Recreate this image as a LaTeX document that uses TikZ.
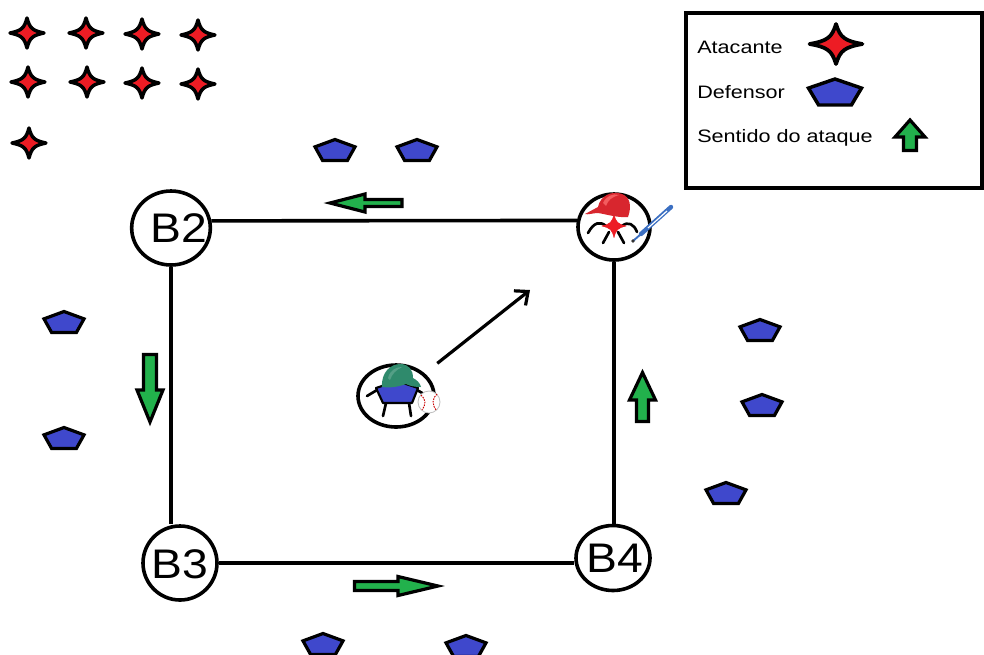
\documentclass[tikz,border=0pt]{standalone}
\usepackage{graphicx}
\usepackage{fontspec}
\setmainfont{Liberation Sans}
\usetikzlibrary{shapes.geometric,arrows.meta,calc}

\definecolor{atkred}{HTML}{ED1C24}
\definecolor{defblue}{HTML}{3F48CC}
\definecolor{dirgreen}{HTML}{22B14C}
\definecolor{capgreen}{HTML}{2F8A6C}
\definecolor{capred}{HTML}{D8262E}
\definecolor{batblue}{HTML}{3B6FC2}

\tikzset{
  px/.style={x=0.75pt,y=-0.75pt},
  fieldline/.style={line width=2.7pt},
  basenode/.style={ellipse, draw, line width=2.7pt, fill=white, inner sep=0pt},
  baselabel/.style={font=\fontsize{31}{31}\selectfont, anchor=base, inner sep=0pt},
  legendtext/.style={font=\fontsize{13.5}{14}\selectfont, anchor=base west, inner sep=0pt},
  dirarrow/.style={fill=dirgreen, draw=black, line width=2.4pt, line join=miter},
  limb/.style={line width=2pt, line cap=round},
  pics/attacker/.style={code={
    \filldraw[fill=atkred, line join=round]
      (1,0) .. controls (0.32,0.16) and (0.16,0.32) .. (0,1)
            .. controls (-0.16,0.32) and (-0.32,0.16) .. (-1,0)
            .. controls (-0.32,-0.16) and (-0.16,-0.32) .. (0,-1)
            .. controls (0.16,-0.32) and (0.32,-0.16) .. cycle;}},
  pics/defender/.style={code={
    \filldraw[fill=defblue, line join=miter]
      (0,-1) -- (1,-0.3) -- (0.62,1) -- (-0.62,1) -- (-1,-0.3) -- cycle;}},
}

\begin{document}
\begin{tikzpicture}[px]
\useasboundingbox (0,0) rectangle (984,654);
\fill[white] (0,0) rectangle (984,654);

% waiting attackers
\foreach \x/\y in {27/33, 86/33, 142/34, 198/35, 28/82, 87/82, 142/83, 198/84, 29/143}
  \pic[xscale=17, yscale=15, line width=2.6pt] at (\x,\y) {attacker};

% defenders around the field
\foreach \x/\y in {335/150, 417/150, 64/322, 64/438, 760/330, 762/405, 726/493, 323/644, 466/646}
  \pic[xscale=20, yscale=10.5, line width=2.4pt] at (\x,\y) {defender};

% bases
\node[basenode, minimum width=59pt, minimum height=55.5pt] (B2) at (171,228) {};
\node[basenode, minimum width=54pt, minimum height=49.5pt] (B1) at (614,227) {};
\node[basenode, minimum width=55.5pt, minimum height=55.5pt] (B3) at (180,563) {};
\node[basenode, minimum width=55.5pt, minimum height=48.75pt] (B4) at (613,558) {};

% base paths
\draw[fieldline] (B2.10) -- (B1.170);
\draw[fieldline] (B2.south) -- (B2.south |- B3.north);
\draw[fieldline] (B3.east) -- (B3.east -| B4.west);
\draw[fieldline] (B1.south) -- (B1.south |- B4.north);

% base labels
\node[baselabel] (B2text) at (179,242) {\scalebox{1.12}[1]{B2}};
\node[baselabel] (B3text) at (180,578) {\scalebox{1.12}[1]{B3}};
\node[baselabel] (B4text) at (615,572) {\scalebox{1.12}[1]{B4}};

% pitcher circle
\node[basenode, minimum width=57pt, minimum height=46.5pt] (P) at (396,396) {};

% throw direction
\coordinate (aim) at (530,290);
\draw[line width=2.4pt, shorten <=12pt, -{Straight Barb[length=8pt, width=14pt]}] (P) -- (aim);

% pitcher figure
\draw[limb] (377,390) -- (367,396);
\draw[limb] (417,390) -- (424,394);
\draw[limb] (386,403) -- (383,416);
\draw[limb] (409,403) -- (411,416);
\filldraw[fill=defblue, line width=1.6pt, line join=round]
  (397,381) -- (418,388) -- (412,403) -- (383,403) -- (376,388) -- cycle;
\fill[capgreen] (382,387) .. controls (381,372) and (391,364) .. (400,364)
  .. controls (409,364) and (413,370) .. (413,378)
  .. controls (417,380) and (420,383) .. (421,387)
  .. controls (414,387) and (410,386) .. (406,384)
  .. controls (398,387) and (390,388) .. cycle;
\fill[capgreen!70!white, opacity=0.6] (388,378) .. controls (390,370) and (396,367) .. (402,367)
  .. controls (396,370) and (392,374) .. (390,380) -- cycle;
% ball
\filldraw[fill=white, draw=black!25, line width=0.6pt] (429,402) circle (11);
\draw[red!80!black, line width=0.7pt, dash pattern=on 1.2pt off 0.8pt]
  (421,395) .. controls (426,399) and (426,405) .. (422,410);
\draw[red!80!black, line width=0.7pt, dash pattern=on 1.2pt off 0.8pt]
  (437,394) .. controls (432,398) and (432,405) .. (436,410);

% batter figure
\draw[limb] (606,226) .. controls (600,221) and (594,222) .. (588,233);
\draw[limb] (622,226) .. controls (628,221) and (634,224) .. (637,232);
\draw[limb] (609,232) -- (603,243);
\draw[limb] (618,232) -- (624,243);
\pic[xscale=12, yscale=11.5, line width=0.4pt, draw=atkred] at (614,226) {attacker};
\fill[capred] (585,214) -- (598,207) .. controls (600,196) and (612,190) .. (622,194)
  .. controls (630,197) and (632,206) .. (628,217)
  .. controls (618,218) and (605,214) .. (598,213)
  .. controls (593,213) and (588,215) .. cycle;
\fill[red!55!white, opacity=0.7] (603,203) .. controls (606,196) and (613,193) .. (619,195)
  .. controls (612,197) and (608,200) .. (606,206) -- cycle;
% bat
\draw[batblue, line width=1.4pt, line cap=round] (633,241) -- (641,234);
\draw[batblue, line width=3.3pt, line cap=round] (641,234) -- (671,207);
\draw[white, line width=0.9pt] (648,228) -- (667,211);
\fill[black!80] (633,241) circle (1.8);

% direction arrows along the paths
\draw[dirarrow] (330,203) -- (365,194) -- (365,199.5) -- (402,199.5) -- (402,206.5)
  -- (365,206.5) -- (365,212) -- cycle;
\draw[dirarrow] (143.5,354.5) -- (156.5,354.5) -- (156.5,390) -- (163,390) -- (150,422)
  -- (137,390) -- (143.5,390) -- cycle;
\draw[dirarrow] (354.5,581.5) -- (398,581.5) -- (398,576.5) -- (438,586) -- (398,595.5)
  -- (398,590.5) -- (354.5,590.5) -- cycle;
\draw[dirarrow] (642.5,372.5) -- (655.5,400) -- (648.5,400) -- (648.5,421.5)
  -- (636.5,421.5) -- (636.5,400) -- (629.5,400) -- cycle;

% legend
\draw[line width=2.6pt] (686,13) rectangle (982,188);
\node[legendtext] (lgatk) at (697,53) {\scalebox{1.2}[1]{Atacante}};
\node[legendtext] (lgdef) at (697,98) {\scalebox{1.2}[1]{Defensor}};
\node[legendtext] (lgdir) at (697,142) {\scalebox{1.2}[1]{Sentido do ataque}};
\pic[xscale=26.5, yscale=20, line width=2.8pt] at (836,44) {attacker};
\pic[xscale=26.5, yscale=13, line width=2.6pt] at (835,92) {defender};
\draw[dirarrow] (910,120) -- (925,137) -- (916.5,137) -- (916.5,150.5) -- (903.5,150.5)
  -- (903.5,137) -- (895,137) -- cycle;
\end{tikzpicture}
\end{document}
